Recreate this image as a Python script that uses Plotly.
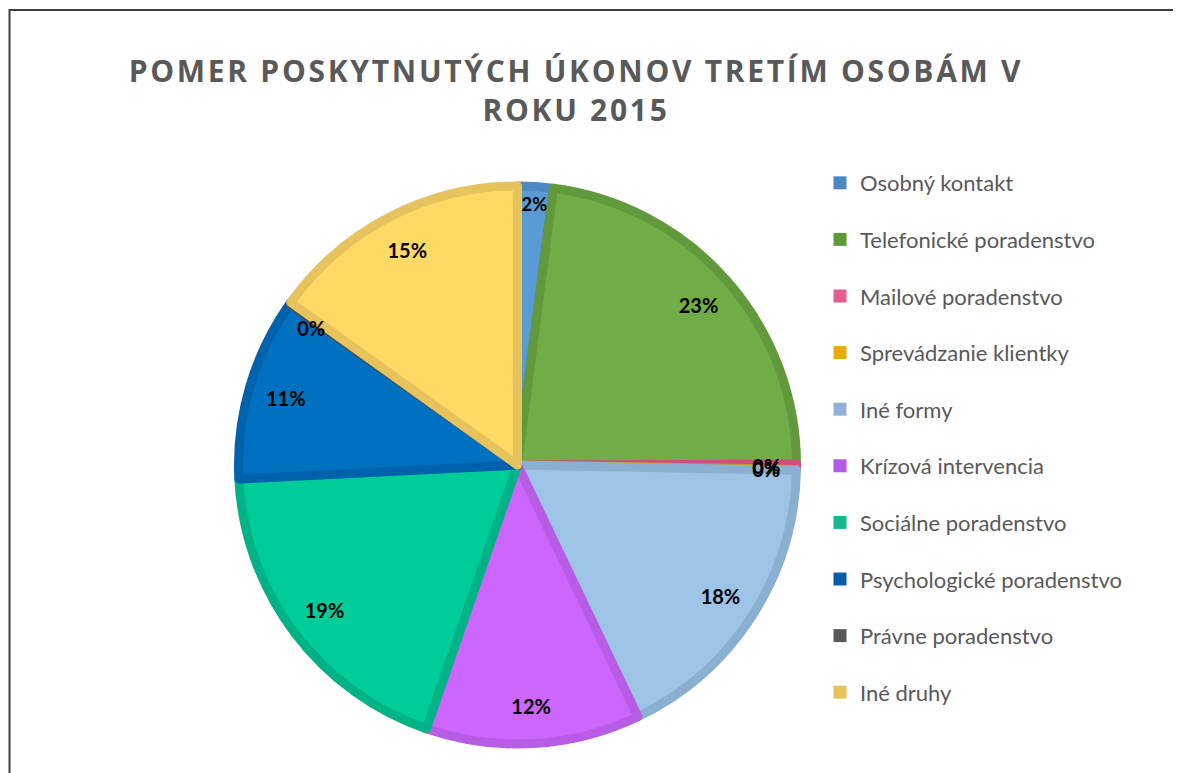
import plotly.graph_objects as go

categories = ["Osobný kontakt", "Telefonické poradenstvo", "Mailové poradenstvo",
              "Sprevádzanie klientky", "Iné formy", "Krízová intervencia",
              "Sociálne poradenstvo", "Psychologické poradenstvo", "Právne poradenstvo",
              "Iné druhy"]
shares = [2.05, 22.9, 0.3, 0.05, 17.6, 12.4, 18.9, 10.6, 0.1, 15.1]
fill_colors = ["#5B9BD5", "#70AD47", "#E8578A", "#E6AC00", "#9DC3E6", "#CC66FF",
               "#00CC99", "#0070C0", "#595959", "#FFD966"]
edge_colors = ["#5089C2", "#62993D", "#D24D7B", "#CC9900", "#8AAFD0", "#B85CE6",
               "#00B386", "#0062AD", "#4D4D4D", "#E6C35C"]
legend_colors = ["#4F86C6", "#5E9A3A", "#E65C8C", "#E6AC00", "#8FB2D6", "#B45CE8",
                 "#14B88A", "#0A5DAA", "#595959", "#E8C25A"]
title_lines = ["POMER POSKYTNUTÝCH ÚKONOV TRETÍM OSOBÁM V", "ROKU 2015"]

OFF = 8                      # default page margin of the html body
W, H = 1181 - OFF, 773 - OFF
cx, cy, r = 517.5 - OFF, 465 - OFF, 279


def dom(rad):
    return dict(x=[(cx - rad) / W, (cx + rad) / W],
                y=[1 - (cy + rad) / H, 1 - (cy - rad) / H])


small = [v < 1 for v in shares]
small_idx = [i for i, s in enumerate(small) if s]
big_tpl = ["" if s else "%{percent:.0%}" for s in small]
clear = ["rgba(0,0,0,0)"] * len(categories)
label_font = dict(family="Lato", size=20, color="black", weight="bold")

fig = go.Figure()
fig.add_trace(go.Pie(
    labels=categories, values=shares, sort=False, direction="clockwise", rotation=0,
    marker=dict(colors=fill_colors, line=dict(color=edge_colors, width=9)),
    textinfo="none", domain=dom(r), showlegend=False, hoverinfo="label+percent",
))
fig.add_trace(go.Pie(
    labels=categories, values=shares, sort=False, direction="clockwise", rotation=0,
    hole=0.73, marker=dict(colors=clear, line=dict(width=0)),
    texttemplate=big_tpl, textposition="inside", insidetextorientation="horizontal",
    textfont=label_font, domain=dom(r), showlegend=False, hoverinfo="skip",
))
# tiny slices: each label in its own transparent layer so that Plotly does not
# push overlapping labels apart (they overlap in the original chart)
groups = [[small_idx[0], small_idx[2]], [small_idx[1]]]
for grp in groups:
    tpl = ["%{percent:.0%}" if i in grp else "" for i in range(len(categories))]
    pos = ["outside" if i in grp else "none" for i in range(len(categories))]
    fig.add_trace(go.Pie(
        labels=categories, values=shares, sort=False, direction="clockwise", rotation=0,
        marker=dict(colors=clear, line=dict(width=0)),
        texttemplate=tpl, textposition=pos,
        textfont=label_font, domain=dom(0.82 * r), showlegend=False, hoverinfo="skip",
    ))
for name, col in zip(categories, legend_colors):
    fig.add_trace(go.Scatter(x=[None], y=[None], mode="markers", name=name,
                             legendgroup=name,
                             marker=dict(symbol="square", size=13, color=col)))

title_text = "<br>".join(
    "<span style='letter-spacing:2.7px'>%s</span>" % t for t in title_lines)

fig.update_layout(
    width=W, height=H, margin=dict(l=0, r=0, t=0, b=0),
    paper_bgcolor="white", plot_bgcolor="white",
    title=dict(text=title_text, x=(576 - OFF) / W, xanchor="center",
               y=1 - (82 - OFF) / H, yanchor="top",
               font=dict(family="Open Sans", size=30, color="#595959", weight="bold")),
    xaxis=dict(visible=False), yaxis=dict(visible=False),
    legend=dict(x=(820 - OFF) / W, xanchor="left", y=1 - (162 - OFF) / H, yanchor="top",
                font=dict(family="Lato", size=22, color="#595959"),
                tracegroupgap=25, traceorder="grouped", itemclick=False),
    shapes=[dict(type="rect", xref="paper", yref="paper", x0=(9.5 - OFF) / W, x1=1.2,
                 y0=-0.2, y1=1 - (10 - OFF) / H, line=dict(color="#3F3F3F", width=2))],
)
fig.write_html("out.html")
